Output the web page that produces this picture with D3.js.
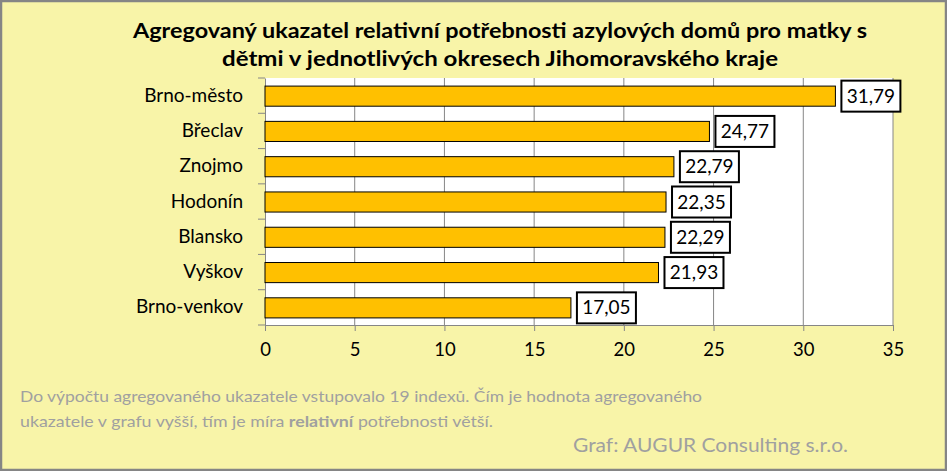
<!DOCTYPE html>
<html><head><meta charset="utf-8">
<script src="https://cdn.jsdelivr.net/npm/d3@7"></script>
<style>body{margin:0;background:#fff}svg{display:block}</style>
</head><body>
<svg id="c" width="947" height="471"></svg>
<script>
const categories = ["Brno-město","Břeclav","Znojmo","Hodonín","Blansko","Vyškov","Brno-venkov"];
const values = [31.79,24.77,22.79,22.35,22.29,21.93,17.05];
const xTicks = [0,5,10,15,20,25,30,35];
const titleLines = ["Agregovaný ukazatel relativní potřebnosti azylových domů pro matky s","dětmi v jednotlivých okresech Jihomoravského kraje"];

const svg = d3.select("#c");
const W=947,H=471;
const font = "Lato, 'Open Sans', sans-serif";
svg.append("rect").attr("x",1).attr("y",1).attr("width",W-2).attr("height",H-2)
  .attr("fill","#F8F4A8").attr("stroke","#858585").attr("stroke-width",2.5);

const m={l:265,r:893,t:78,b:325};
const x=d3.scaleLinear().domain([0,35]).range([m.l,m.r]);
const y=d3.scaleBand().domain(categories).range([m.t,m.b]).paddingInner(0.43).paddingOuter(0.215);

svg.append("rect").attr("x",m.l).attr("y",m.t).attr("width",m.r-m.l).attr("height",m.b-m.t).attr("fill","#fff");

// gridlines
svg.append("g").selectAll("line").data(xTicks.slice(1)).join("line")
  .attr("x1",d=>x(d)).attr("x2",d=>x(d)).attr("y1",m.t).attr("y2",m.b)
  .attr("stroke","#868686").attr("stroke-width",1);

// x axis
const xa=svg.append("g").attr("transform",`translate(0,${m.b})`)
  .call(d3.axisBottom(x).tickValues(xTicks).tickSize(6).tickPadding(12).tickFormat(d3.format("d")));
xa.select(".domain").attr("stroke","#868686");
xa.selectAll(".tick line").attr("stroke","#868686");
xa.selectAll("text").attr("font-family",font).attr("font-size",18.5).attr("fill","#000");

// y axis
const ya=svg.append("g").attr("transform",`translate(${m.l},0)`)
  .call(d3.axisLeft(y).tickSize(0).tickPadding(22));
ya.select(".domain").attr("stroke","#868686");
ya.selectAll("text").attr("font-family",font).attr("font-size",19).attr("fill","#000");
// band boundary ticks
const bounds=d3.range(categories.length+1).map(i=>m.t+i*(m.b-m.t)/categories.length);
svg.append("g").selectAll("line").data(bounds).join("line")
  .attr("x1",m.l-7).attr("x2",m.l).attr("y1",d=>d).attr("y2",d=>d).attr("stroke","#868686");

// bars
svg.append("g").selectAll("rect").data(values).join("rect")
  .attr("x",x(0)).attr("y",(d,i)=>y(categories[i])+0.5)
  .attr("width",d=>x(d)-x(0)).attr("height",y.bandwidth())
  .attr("fill","#FFC000").attr("stroke","#000").attr("stroke-width",1);

// labels
const fmt=d=>d.toFixed(2).replace(".",",");
const lg=svg.append("g").selectAll("g").data(values).join("g")
  .attr("transform",(d,i)=>`translate(${x(d)+6},${y(categories[i])+y.bandwidth()/2})`);
lg.append("rect").attr("x",0).attr("y",-15).attr("width",59).attr("height",31)
  .attr("fill","#fff").attr("stroke","#000").attr("stroke-width",2);
lg.append("text").attr("x",29.5).attr("y",7).attr("text-anchor","middle")
  .attr("font-family",font).attr("font-size",19).text(fmt);

// title
svg.append("g").selectAll("text").data(titleLines).join("text")
  .attr("x",500).attr("y",(d,i)=>38+i*28).attr("text-anchor","middle")
  .attr("font-family",font).attr("font-weight","bold").attr("font-size",21)
  .attr("textLength",(d,i)=>i?556:734).attr("lengthAdjust","spacingAndGlyphs").text(d=>d);

// footnote
const fn=svg.append("g").attr("font-family",font).attr("font-size",15).attr("fill","#A0A0A0");
fn.append("text").attr("x",20).attr("y",402).attr("textLength",682).attr("lengthAdjust","spacingAndGlyphs")
  .text("Do výpočtu agregovaného ukazatele vstupovalo 19 indexů. Čím je hodnota agregovaného");
const t2=fn.append("text").attr("x",20).attr("y",427).attr("textLength",473).attr("lengthAdjust","spacingAndGlyphs");
t2.append("tspan").text("ukazatele v grafu vyšší, tím je míra ");
t2.append("tspan").attr("font-weight","bold").text("relativní");
t2.append("tspan").text(" potřebnosti větší.");
svg.append("text").attr("x",573).attr("y",452).attr("font-family",font).attr("font-size",20).attr("fill","#A0A0A0")
  .attr("textLength",275).attr("lengthAdjust","spacingAndGlyphs").text("Graf: AUGUR Consulting s.r.o.");
</script>
</body></html>
